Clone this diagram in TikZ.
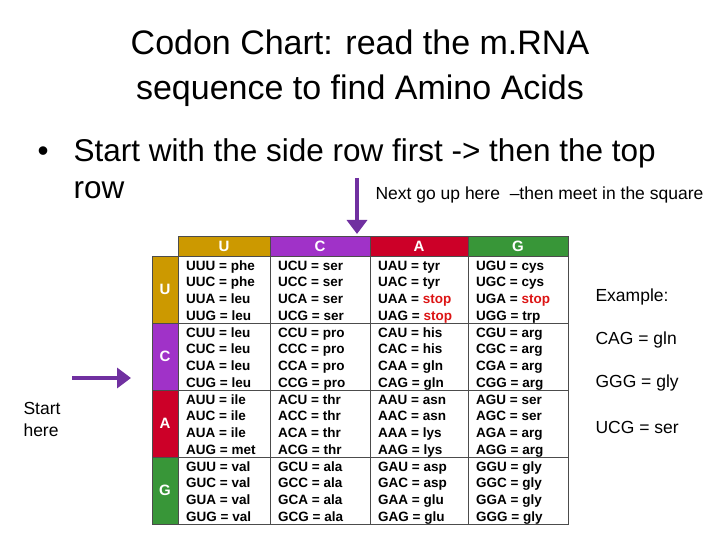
\documentclass[tikz,border=0pt]{standalone}
\usepackage{fontspec}
\setmainfont{Liberation Sans}
\usetikzlibrary{arrows.meta}
\definecolor{cU}{RGB}{204,153,0}
\definecolor{cC}{RGB}{160,50,200}
\definecolor{cA}{RGB}{204,0,40}
\definecolor{cG}{RGB}{56,150,56}
\definecolor{arr}{RGB}{112,48,160}
\definecolor{stopred}{RGB}{220,20,20}
\newcommand\defcod[2]{\expandafter\def\csname cod@#1\endcsname{#2}}
\newcommand\stp{\textcolor{stopred}{stop}}
\defcod{UUU}{phe}\defcod{UUC}{phe}\defcod{UUA}{leu}\defcod{UUG}{leu}
\defcod{UCU}{ser}\defcod{UCC}{ser}\defcod{UCA}{ser}\defcod{UCG}{ser}
\defcod{UAU}{tyr}\defcod{UAC}{tyr}\defcod{UAA}{\stp}\defcod{UAG}{\stp}
\defcod{UGU}{cys}\defcod{UGC}{cys}\defcod{UGA}{\stp}\defcod{UGG}{trp}
\defcod{CUU}{leu}\defcod{CUC}{leu}\defcod{CUA}{leu}\defcod{CUG}{leu}
\defcod{CCU}{pro}\defcod{CCC}{pro}\defcod{CCA}{pro}\defcod{CCG}{pro}
\defcod{CAU}{his}\defcod{CAC}{his}\defcod{CAA}{gln}\defcod{CAG}{gln}
\defcod{CGU}{arg}\defcod{CGC}{arg}\defcod{CGA}{arg}\defcod{CGG}{arg}
\defcod{AUU}{ile}\defcod{AUC}{ile}\defcod{AUA}{ile}\defcod{AUG}{met}
\defcod{ACU}{thr}\defcod{ACC}{thr}\defcod{ACA}{thr}\defcod{ACG}{thr}
\defcod{AAU}{asn}\defcod{AAC}{asn}\defcod{AAA}{lys}\defcod{AAG}{lys}
\defcod{AGU}{ser}\defcod{AGC}{ser}\defcod{AGA}{arg}\defcod{AGG}{arg}
\defcod{GUU}{val}\defcod{GUC}{val}\defcod{GUA}{val}\defcod{GUG}{val}
\defcod{GCU}{ala}\defcod{GCC}{ala}\defcod{GCA}{ala}\defcod{GCG}{ala}
\defcod{GAU}{asp}\defcod{GAC}{asp}\defcod{GAA}{glu}\defcod{GAG}{glu}
\defcod{GGU}{gly}\defcod{GGC}{gly}\defcod{GGA}{gly}\defcod{GGG}{gly}
\begin{document}
\begin{tikzpicture}[x=1pt,y=-1pt,
  big/.style={font=\fontsize{34}{45}\selectfont},
  bul/.style={font=\fontsize{31.5}{34}\selectfont,anchor=base west},
  small/.style={font=\fontsize{17.5}{22}\selectfont,anchor=west},
  hdr/.style={font=\fontsize{15}{16}\selectfont\bfseries,text=white},
  cell/.style={font=\fontsize{13.5}{14}\selectfont\bfseries,anchor=base west,inner sep=0pt},
  parr/.style={draw=arr,line width=4pt,-{Triangle[length=14pt,width=20pt]}}]
\useasboundingbox (0,0) rectangle (720,540);
\node[big,align=center] (title) at (360,68) {Codon Chart: read the m.RNA\\sequence to find Amino Acids};
\node[bul] (b) at (34,162) {•};
\node[bul] (l1) at (70,162) {Start with the side row first -> then the top};
\node[bul] (l2) at (70,199) {row};
\node[small] (next) at (372,195) {Next go up here \ –then meet in the square};
\coordinate (d0) at (357,178);
\coordinate (d1) at (357,234);
\draw[parr] (d0) -- (d1);
\coordinate (l0) at (72,378);
\coordinate (lz) at (131,378);
\draw[parr] (l0) -- (lz);
\node[small,align=left,anchor=north west] (start) at (20,399) {Start\\here};
\node[small] (ex) at (592,297) {Example:};
\node[small] (e1) at (592,340) {CAG = gln};
\node[small] (e2) at (592,383) {GGG = gly};
\node[small] (e3) at (592,427) {UCG = ser};
\def\xs{{178,270,370,468,568}}
\foreach \b/\c [count=\i from 0] in {U/cU,C/cC,A/cA,G/cG}{
  \pgfmathsetmacro\xa{\xs[\i]}\pgfmathsetmacro\xb{\xs[\i+1]}
  \fill[\c] (\xa,236) rectangle (\xb,256);
  \node[hdr] (h\b) at ({(\xa+\xb)/2},246) {\b};
  \pgfmathsetmacro\ya{256+67*\i}
  \fill[\c] (152,\ya) rectangle (178,\ya+67);
  \node[hdr] (s\b) at (165,\ya+33.5) {\b};
}
\draw[black!70,line width=0.8pt] (178,236) rectangle (568,256);
\foreach \x in {270,370,468} \draw[black!70,line width=0.8pt] (\x,236) -- (\x,524);
\draw[black!70,line width=0.8pt] (152,256) rectangle (568,524);
\draw[black!70,line width=0.8pt] (178,256) -- (178,524);
\foreach \y in {323,390,457} \draw[black!70,line width=0.8pt] (152,\y) -- (568,\y);
\foreach \first [count=\r from 0] in {U,C,A,G}{
 \foreach \third [count=\k from 0] in {U,C,A,G}{
  \pgfmathsetmacro\yy{270+67*\r+16.75*\k}
  \foreach \second [count=\c from 0] in {U,C,A,G}{
   \pgfmathsetmacro\xx{\xs[\c]+8}
   \edef\cod{\first\second\third}
   \node[cell] (c\cod) at (\xx,\yy) {\cod{} = \csname cod@\cod\endcsname};
  }}}
\end{tikzpicture}
\end{document}
